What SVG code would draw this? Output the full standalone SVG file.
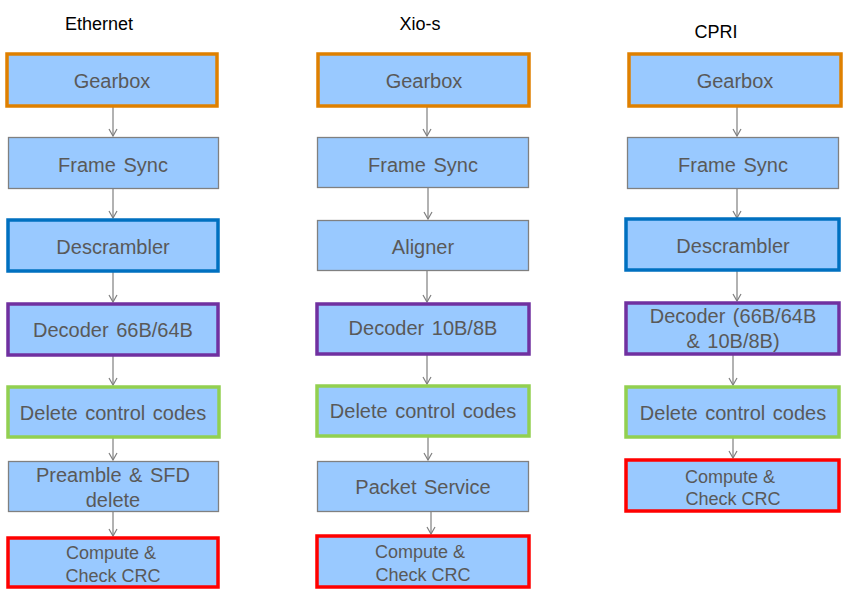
<svg xmlns="http://www.w3.org/2000/svg" width="849" height="600" viewBox="0 0 849 600">
<defs>
<style>
.box{fill:#99C9FF;stroke:#808080;stroke-width:1.3}
.or{stroke:#DF8000;stroke-width:3.5}
.bl{stroke:#0070C0;stroke-width:3.5}
.pu{stroke:#7030A0;stroke-width:3.5}
.gr{stroke:#92D050;stroke-width:3.5}
.rd{stroke:#FF0000;stroke-width:3.5}
.t{font-family:"Liberation Sans",Arial,sans-serif;font-size:20px;fill:#595959;text-anchor:middle;word-spacing:2px}
.s{font-size:18px;word-spacing:0}
.h{font-family:"Liberation Sans",Arial,sans-serif;font-size:18px;fill:#000;text-anchor:middle}
.c{stroke:#7F7F7F;stroke-width:1.2;fill:none;marker-end:url(#a)}
</style>
<marker id="a" markerWidth="10" markerHeight="10" refX="8" refY="5" orient="auto" markerUnits="userSpaceOnUse" viewBox="0 0 10 10">
<path d="M1,1 L8,5 L1,9" fill="none" stroke="#7F7F7F" stroke-width="1.2"/>
</marker>
</defs>
<rect width="849" height="600" fill="#fff"/>
<g id="titles">
<text class="h" x="99" y="30">Ethernet</text>
<text class="h" x="420" y="30">Xio-s</text>
<text class="h" x="716" y="38">CPRI</text>
</g>
<g id="connectors">
<line class="c" x1="113" y1="107" x2="113" y2="136"/>
<line class="c" x1="113" y1="189" x2="113" y2="218"/>
<line class="c" x1="113" y1="272" x2="113" y2="302"/>
<line class="c" x1="113" y1="356" x2="113" y2="385"/>
<line class="c" x1="113" y1="438" x2="113" y2="460"/>
<line class="c" x1="113" y1="512" x2="113" y2="536"/>
<line class="c" x1="427" y1="107" x2="427" y2="136"/>
<line class="c" x1="428" y1="188" x2="428" y2="219"/>
<line class="c" x1="427" y1="271" x2="427" y2="302"/>
<line class="c" x1="427" y1="355" x2="427" y2="384"/>
<line class="c" x1="428" y1="437" x2="428" y2="460"/>
<line class="c" x1="431" y1="512" x2="431" y2="534"/>
<line class="c" x1="737" y1="107" x2="737" y2="136"/>
<line class="c" x1="737" y1="189" x2="737" y2="218"/>
<line class="c" x1="737" y1="271" x2="737" y2="301"/>
<line class="c" x1="733" y1="355" x2="733" y2="385"/>
<line class="c" x1="733" y1="438" x2="733" y2="458"/>
</g>
<g id="eth-gearbox"><rect class="box or" x="7" y="54" width="210" height="52"/><text class="t" x="112" y="88">Gearbox</text></g>
<g id="eth-framesync"><rect class="box" x="8.5" y="137.5" width="210" height="51"/><text class="t" x="113" y="172">Frame Sync</text></g>
<g id="eth-descrambler"><rect class="box bl" x="8" y="220" width="210" height="51"/><text class="t" x="113" y="254">Descrambler</text></g>
<g id="eth-decoder"><rect class="box pu" x="8" y="304" width="210" height="51"/><text class="t" x="113" y="337">Decoder 66B/64B</text></g>
<g id="eth-delete"><rect class="box gr" x="8" y="387" width="211" height="50"/><text class="t" x="113" y="420">Delete control codes</text></g>
<g id="eth-preamble"><rect class="box" x="8.5" y="461.5" width="210" height="50"/><text class="t" x="113" y="482">Preamble  &amp; SFD</text><text class="t" x="113" y="507">delete</text></g>
<g id="eth-crc"><rect class="box rd" x="8" y="538" width="210" height="49"/><text class="t s" x="111" y="559">Compute &amp;</text><text class="t s" x="113" y="582">Check CRC</text></g>
<g id="xio-gearbox"><rect class="box or" x="318" y="54" width="211" height="52"/><text class="t" x="424" y="88">Gearbox</text></g>
<g id="xio-framesync"><rect class="box" x="317.5" y="137.5" width="211" height="50"/><text class="t" x="423" y="172">Frame Sync</text></g>
<g id="xio-aligner"><rect class="box" x="317.5" y="220.5" width="211" height="50"/><text class="t" x="423" y="254">Aligner</text></g>
<g id="xio-decoder"><rect class="box pu" x="317" y="304" width="212" height="50"/><text class="t" x="423" y="335">Decoder 10B/8B</text></g>
<g id="xio-delete"><rect class="box gr" x="317" y="386" width="212" height="50"/><text class="t" x="423" y="418">Delete control codes</text></g>
<g id="xio-packet"><rect class="box" x="317.5" y="461.5" width="211" height="50"/><text class="t" x="423" y="494">Packet Service</text></g>
<g id="xio-crc"><rect class="box rd" x="317" y="536" width="212" height="51"/><text class="t s" x="420" y="558">Compute &amp;</text><text class="t s" x="423" y="581">Check CRC</text></g>
<g id="cpri-gearbox"><rect class="box or" x="629" y="54" width="212" height="52"/><text class="t" x="735" y="88">Gearbox</text></g>
<g id="cpri-framesync"><rect class="box" x="627.5" y="137.5" width="211" height="51"/><text class="t" x="733" y="172">Frame Sync</text></g>
<g id="cpri-descrambler"><rect class="box bl" x="626" y="219" width="213" height="51"/><text class="t" x="733" y="253">Descrambler</text></g>
<g id="cpri-decoder"><rect class="box pu" x="626" y="303" width="213" height="51"/><text class="t" x="733" y="323">Decoder (66B/64B</text><text class="t" x="733" y="348">&amp; 10B/8B)</text></g>
<g id="cpri-delete"><rect class="box gr" x="626" y="387" width="213" height="50"/><text class="t" x="733" y="420">Delete control codes</text></g>
<g id="cpri-crc"><rect class="box rd" x="626" y="460" width="213" height="51"/><text class="t s" x="730" y="483">Compute &amp;</text><text class="t s" x="733" y="505">Check CRC</text></g>
</svg>
